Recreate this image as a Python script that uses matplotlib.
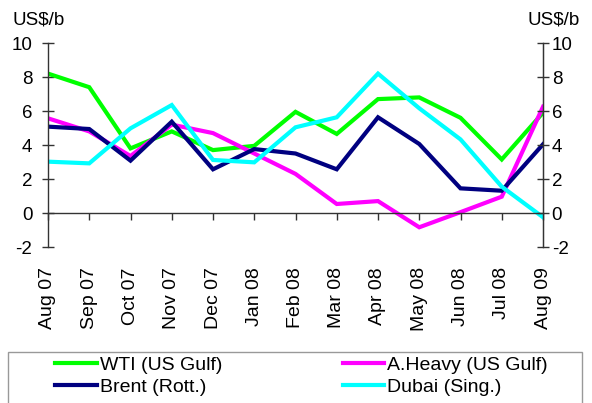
import numpy as np
import matplotlib
matplotlib.use("Agg")
from matplotlib import pyplot as plt
from matplotlib.patches import Rectangle

plt.rcParams['font.family'] = ['Liberation Sans', 'DejaVu Sans']
plt.rcParams['axes.unicode_minus'] = False

months = ["Aug 07", "Sep 07", "Oct 07", "Nov 07", "Dec 07", "Jan 08", "Feb 08",
          "Mar 08", "Apr 08", "May 08", "Jun 08", "Jul 08", "Aug 09"]
wti = [8.2, 7.4, 3.8, 4.8, 3.7, 3.95, 5.95, 4.65, 6.7, 6.8, 5.6, 3.15, 5.9]
aheavy = [5.57, 4.8, 3.35, 5.2, 4.7, 3.5, 2.3, 0.53, 0.7, -0.84, 0.05, 0.96, 6.25]
brent = [5.08, 4.94, 3.08, 5.37, 2.57, 3.76, 3.5, 2.57, 5.63, 4.06, 1.45, 1.31, 4.04]
dubai = [3.02, 2.92, 4.98, 6.35, 3.12, 2.98, 5.04, 5.63, 8.2, 6.16, 4.33, 1.55, -0.25]
yticks = [-2, 0, 2, 4, 6, 8, 10]

fig = plt.figure(figsize=(5.92, 4.03), dpi=100)
ax = fig.add_axes([48/592, 1-247/403, 495/592, 204/403])
x = np.arange(len(months))

l_wti, = ax.plot(x, wti, color='#00FF00', lw=3, label="WTI (US Gulf)", solid_joinstyle='miter')
l_ah, = ax.plot(x, aheavy, color='#FF00FF', lw=3, label="A.Heavy (US Gulf)", solid_joinstyle='miter')
l_br, = ax.plot(x, brent, color='#000080', lw=3, label="Brent (Rott.)", solid_joinstyle='miter')
l_du, = ax.plot(x, dubai, color='#00FFFF', lw=3, label="Dubai (Sing.)", solid_joinstyle='miter')

ax.set_xlim(0, len(months)-1)
ax.set_ylim(-2, 10)
ax.set_yticks(yticks)
ax.set_xticks(x)
ax.set_xticklabels(months)

ax.spines['top'].set_visible(False)
ax.spines['bottom'].set_position(('data', 0))
for s in ['left', 'right', 'bottom']:
    ax.spines[s].set_color('#333333')
    ax.spines[s].set_linewidth(1)
ax.tick_params(axis='x', direction='out', length=5, width=1, color='#333333', pad=34,
               labelrotation=90, labelsize=14)
ax.tick_params(axis='y', direction='inout', length=8.5, width=1, color='#333333',
               labelsize=13.5, pad=7)

ax2 = ax.twinx()
ax2.set_ylim(-2, 10)
ax2.set_yticks(yticks)
for s in ['top', 'left', 'bottom']:
    ax2.spines[s].set_visible(False)
ax2.spines['right'].set_color('#333333')
ax2.tick_params(axis='y', direction='inout', length=8.5, width=1, color='#333333',
                labelsize=13.5, pad=2)

fig.text(12/592, 1-20/403, "US$/b", fontsize=13.5, va='center', ha='left')
fig.text(580/592, 1-20/403, "US$/b", fontsize=13.5, va='center', ha='right')

fig.patches.append(Rectangle((8/592, -0.05), 574/592, 0.05+1-352/403,
                             transform=fig.transFigure, fill=False,
                             edgecolor='#999999', lw=1))
fig.legend([l_wti, l_br, l_ah, l_du],
           [l.get_label() for l in [l_wti, l_br, l_ah, l_du]],
           ncol=2, loc='upper left', bbox_to_anchor=(55/592, 1-356.5/403),
           frameon=False, fontsize=14, handlelength=2.15, handletextpad=0.15,
           columnspacing=6.2, labelspacing=0.2, borderpad=0, borderaxespad=0)

fig.savefig("out.png", dpi=100)
